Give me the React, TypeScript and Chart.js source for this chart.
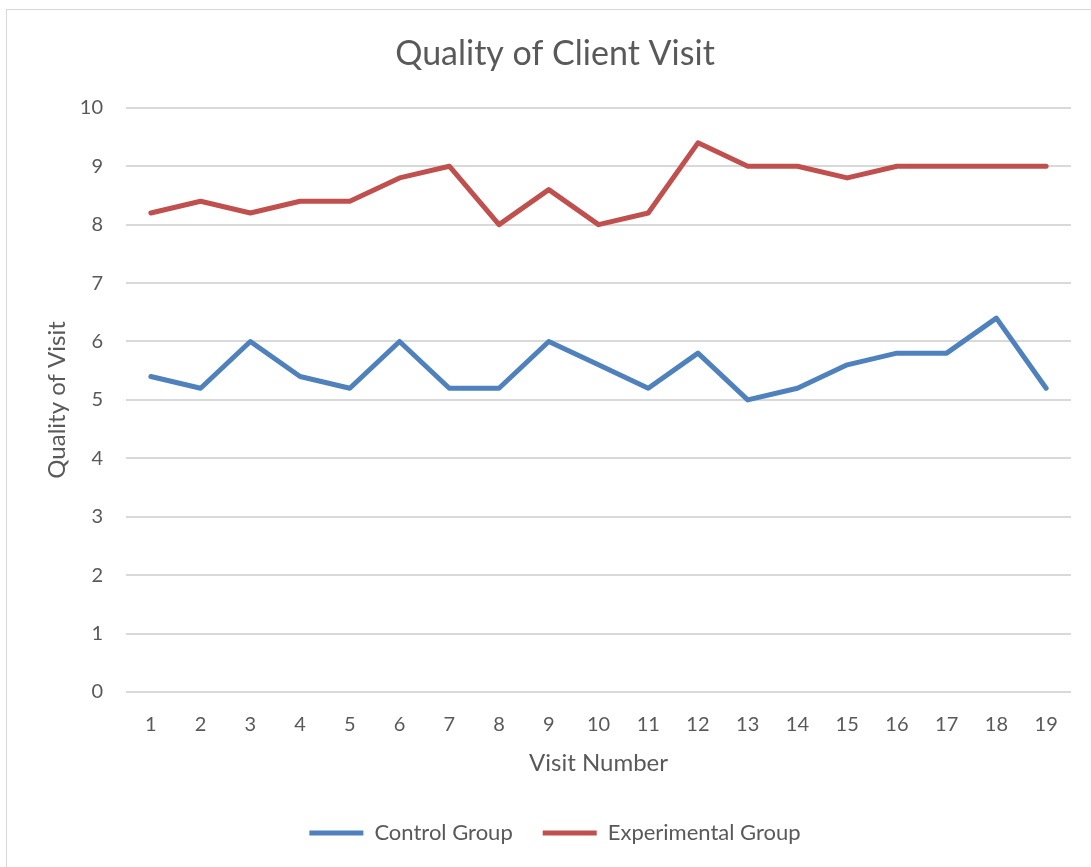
import React, { useEffect, useRef } from "react";
import { Chart, registerables } from "chart.js";

Chart.register(...registerables);

const visits = ["1","2","3","4","5","6","7","8","9","10","11","12","13","14","15","16","17","18","19"];
const controlGroup = [5.4, 5.2, 6, 5.4, 5.2, 6, 5.2, 5.2, 6, 5.6, 5.2, 5.8, 5.0, 5.2, 5.6, 5.8, 5.8, 6.4, 5.2];
const experimentalGroup = [8.2, 8.4, 8.2, 8.4, 8.4, 8.8, 9, 8, 8.6, 8, 8.2, 9.4, 9, 9, 8.8, 9, 9, 9, 9];

const FONT = "Lato, 'Open Sans', sans-serif";
const TEXT = "#595959";
const GRID = "#d9d9d9";

const framePlugin = {
  id: "frame",
  beforeDraw(chart: any) {
    const ctx = chart.ctx;
    ctx.save();
    ctx.fillStyle = "#ffffff";
    ctx.fillRect(0, 0, chart.width, chart.height);
    ctx.strokeStyle = GRID;
    ctx.lineWidth = 1;
    ctx.strokeRect(6.5, 9.5, chart.width + 20, chart.height + 20);
    ctx.restore();
  },
};

export default function App() {
  const ref = useRef<HTMLCanvasElement | null>(null);
  useEffect(() => {
    if (!ref.current) return;
    const chart = new Chart(ref.current, {
      type: "line",
      data: {
        labels: visits,
        datasets: [
          {
            label: "Control Group",
            data: controlGroup,
            borderColor: "#4f81bd",
            backgroundColor: "#4f81bd",
            borderWidth: 5,
            pointRadius: 0,
            pointStyle: "line",
            borderCapStyle: "round",
            borderJoinStyle: "round",
            tension: 0,
          },
          {
            label: "Experimental Group",
            data: experimentalGroup,
            borderColor: "#c0504d",
            backgroundColor: "#c0504d",
            borderWidth: 5,
            pointRadius: 0,
            pointStyle: "line",
            borderCapStyle: "round",
            borderJoinStyle: "round",
            tension: 0,
          },
        ],
      },
      options: {
        animation: false,
        responsive: true,
        maintainAspectRatio: false,
        layout: { padding: { left: 39, right: 20, top: 0, bottom: 13 } },
        plugins: {
          title: {
            display: true,
            text: "Quality of Client Visit",
            color: TEXT,
            font: { family: FONT, size: 34, weight: "normal" },
            padding: { top: 34, bottom: 33 },
          },
          legend: {
            position: "bottom",
            labels: {
              color: TEXT,
              font: { family: FONT, size: 22 },
              usePointStyle: true,
              pointStyleWidth: 54,
              boxHeight: 5,
              padding: 30,
            },
          },
          tooltip: { enabled: false },
        },
        scales: {
          x: {
            offset: true,
            grid: { display: false, drawTicks: false },
            border: { display: false },
            ticks: { color: TEXT, font: { family: FONT, size: 20 }, padding: 21, maxRotation: 0, autoSkip: false },
            title: {
              display: true,
              text: "Visit Number",
              color: TEXT,
              font: { family: FONT, size: 24 },
              padding: { top: 0, bottom: 14 },
            },
            afterFit(scale: any) {
              scale.height = 100;
            },
          },
          y: {
            min: 0,
            max: 10,
            ticks: { stepSize: 1, color: TEXT, font: { family: FONT, size: 20 }, padding: 23 },
            grid: { color: GRID, lineWidth: 2, drawTicks: false },
            border: { display: false },
            title: {
              display: true,
              text: "Quality of Visit",
              color: TEXT,
              font: { family: FONT, size: 24 },
              padding: { top: 4, bottom: 0 },
            },
            afterFit(scale: any) {
              scale.width = 126 - 39;
            },
          },
        },
      },
      plugins: [framePlugin],
    });
    return () => chart.destroy();
  }, []);
  return (
    <div style={{ position: "absolute", left: 0, top: 0, width: 1091, height: 867 }}>
      <canvas ref={ref} />
    </div>
  );
}
